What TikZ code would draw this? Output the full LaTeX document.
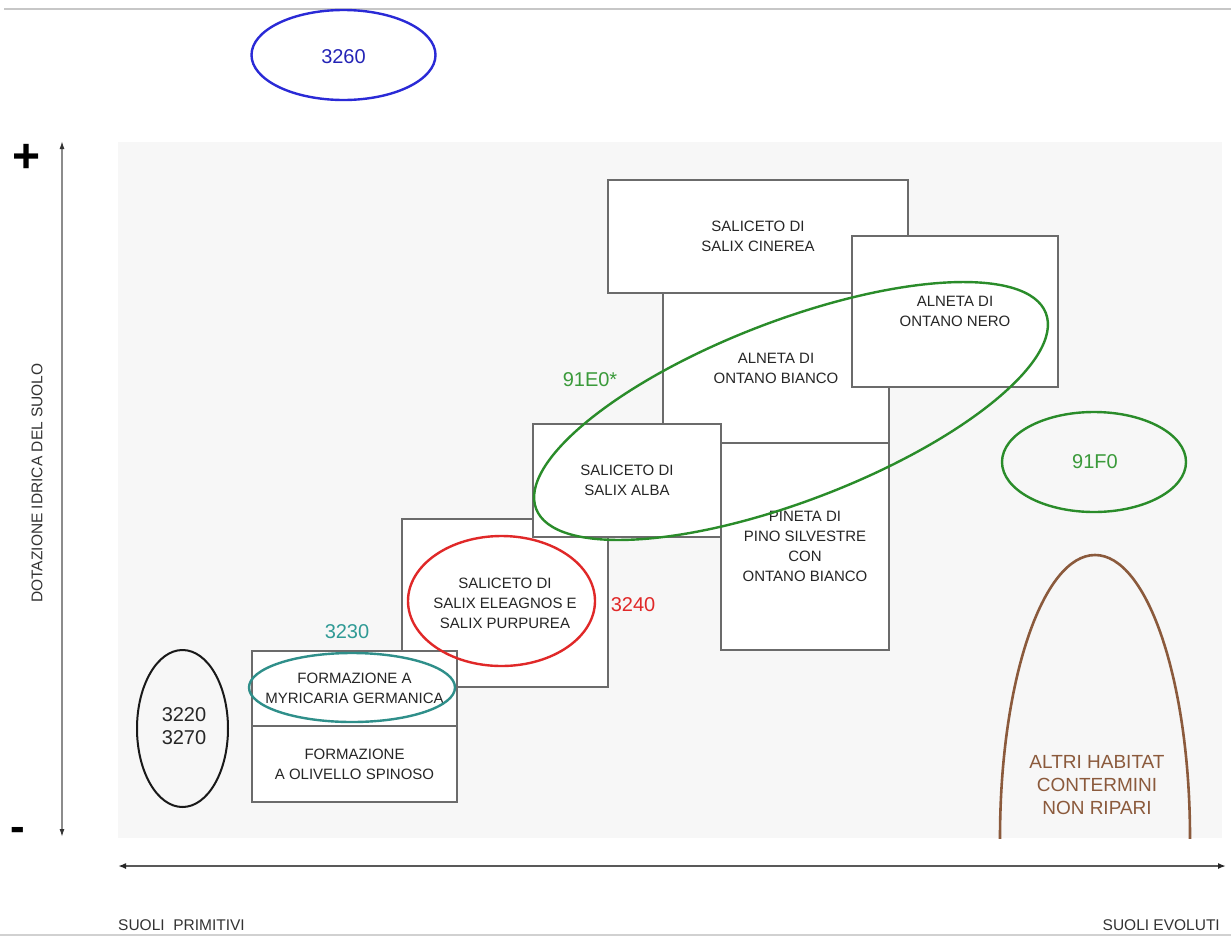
\documentclass[tikz,border=0pt]{standalone}
\usepackage{fontspec}
\setmainfont{Liberation Sans}
\usetikzlibrary{shapes.geometric,arrows.meta}
\definecolor{boxline}{HTML}{6B6B6B}
\definecolor{bgfill}{HTML}{F7F7F7}
\definecolor{myblue}{HTML}{2A2AD6}
\definecolor{mygreen}{HTML}{2A8C2A}
\definecolor{mygreentext}{HTML}{3A9A3A}
\definecolor{myred}{HTML}{E02828}
\definecolor{myteal}{HTML}{2F8F8A}
\definecolor{mytealtext}{HTML}{2F9A95}
\definecolor{mybrown}{HTML}{8B5A3C}
\definecolor{axisgray}{HTML}{8C8C8C}
\begin{document}
\begin{tikzpicture}[x=1pt,y=-1pt,
  habbox/.style={draw=boxline, line width=1.2pt, fill=white, inner sep=0pt, outer sep=0pt,
    anchor=north west, align=center, font=\fontsize{15}{20}\selectfont, text=black!85},
  ring/.style={draw, ellipse, line width=2.4pt, inner sep=0pt, outer sep=0pt},
  code/.style={font=\fontsize{20}{23}\selectfont, inner sep=0pt},
  axislabel/.style={font=\fontsize{15.5}{18}\selectfont, text=black!80, inner sep=0pt}]
\useasboundingbox (0,0) rectangle (1231,937);
% frame lines
\coordinate (tl) at (4,9); \coordinate (tr) at (1231,9);
\draw[line width=1.5pt, color=black!22] (tl) -- (tr);
\coordinate (bl) at (0,935); \coordinate (br) at (1231,935);
\draw[line width=1.5pt, color=black!18] (bl) -- (br);
% background panel
\fill[bgfill] (118,142) rectangle (1222,838);
% 3260
\node[ring, draw=myblue, minimum width=184pt, minimum height=90pt] (e3260) at (343.5,55) {};
\node[code, text=myblue!85!black] (t3260) at (343.5,57) {3260};
% vertical axis
\coordinate (vtop) at (62,141); \coordinate (vbot) at (62,837);
\draw[axisgray, line width=1.4pt, {Latex[length=8pt,width=5pt,black!80]}-{Latex[length=8pt,width=5pt,black!80]}] (vtop) -- (vbot);
\node[font=\fontsize{48}{48}\selectfont\bfseries, inner sep=0pt] (plus) at (27,158) {+};
\node[font=\fontsize{44}{44}\selectfont\bfseries, inner sep=0pt] (minus) at (18,834) {-};
\node[axislabel, rotate=90] (dot) at (37,483) {DOTAZIONE IDRICA DEL SUOLO};
% horizontal axis
\coordinate (hl) at (118,866); \coordinate (hr) at (1226,866);
\draw[black!65, line width=1.8pt, {Latex[length=8pt,width=6pt,black!85]}-{Latex[length=8pt,width=6pt,black!85]}] (hl) -- (hr);
\node[axislabel, anchor=west] (prim) at (118,925) {SUOLI\ \ PRIMITIVI};
\node[axislabel, anchor=east] (evol) at (1220,925) {SUOLI EVOLUTI};
% boxes
\node[habbox, minimum width=300pt, minimum height=113pt] (cin) at (608,180) {SALICETO DI\\SALIX CINEREA};
\node[habbox, minimum width=226pt, minimum height=150pt] (bia) at (663,293) {ALNETA DI\\ONTANO BIANCO};
\node[habbox, minimum width=206pt, minimum height=151pt] (nero) at (852,236) {ALNETA DI\\ONTANO NERO};
\node[habbox, minimum width=168pt, minimum height=207pt] (pin) at (721,443) {PINETA DI\\PINO SILVESTRE\\CON\\ONTANO BIANCO};
\node[habbox, minimum width=206pt, minimum height=168pt] (ele) at (402,519) {SALICETO DI\\SALIX ELEAGNOS E\\SALIX PURPUREA};
\node[habbox, minimum width=188pt, minimum height=113pt] (alba) at (533,424) {SALICETO DI\\SALIX ALBA};
\node[habbox, minimum width=205pt, minimum height=75pt] (myr) at (252,651) {FORMAZIONE A\\MYRICARIA GERMANICA};
\node[habbox, minimum width=205pt, minimum height=76pt] (oli) at (252,726) {FORMAZIONE\\A OLIVELLO SPINOSO};
% 91E0*
\node[ring, draw=mygreen, minimum width=546pt, minimum height=180pt, rotate=21] (e91e0) at (791,411) {};
\node[code, text=mygreentext] (t91e0) at (590,380) {91E0*};
% 3240
\node[ring, draw=myred, minimum width=187pt, minimum height=130pt] (e3240) at (501.5,601) {};
\node[code, text=myred] (t3240) at (633,605) {3240};
% 3230
\node[ring, draw=myteal, minimum width=206pt, minimum height=69pt] (e3230) at (352,687.5) {};
\node[code, text=mytealtext] (t3230) at (347,632) {3230};
% 3220 / 3270
\node[ring, draw=black!90, line width=2pt, minimum width=91pt, minimum height=157pt] (e3220) at (182.5,728.5) {};
\node[code, align=center, text=black!85] (t3220) at (184,726.5) {3220\\3270};
% 91F0
\node[ring, draw=mygreen, minimum width=184pt, minimum height=100pt] (e91f0) at (1094,462) {};
\node[code, text=mygreentext] (t91f0) at (1095,462) {91F0};
% altri habitat
\begin{scope}
\clip (118,142) rectangle (1222,838);
\draw[mybrown, line width=2.6pt] (1095,838) ellipse (95 and 283);
\end{scope}
\node[font=\fontsize{19}{23}\selectfont, align=center, text=mybrown, inner sep=0pt] (altri) at (1097,785) {ALTRI HABITAT\\CONTERMINI\\NON RIPARI};
\end{tikzpicture}
\end{document}
